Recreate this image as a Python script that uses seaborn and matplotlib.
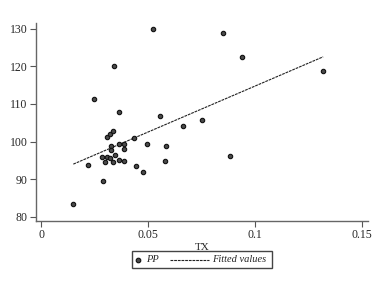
import numpy as np
import pandas as pd
import seaborn as sns
import matplotlib
matplotlib.use("Agg")
import matplotlib.pyplot as plt
from matplotlib.lines import Line2D
from matplotlib.patches import Rectangle

tx = [0.0151, 0.0221, 0.0246, 0.0287, 0.0291, 0.0301, 0.0307, 0.0310, 0.0322, 0.0322,
      0.0327, 0.0327, 0.0335, 0.0338, 0.0343, 0.0346, 0.0363, 0.0364, 0.0366, 0.0386,
      0.0388, 0.0388, 0.0435, 0.0444, 0.0478, 0.0495, 0.0523, 0.0555, 0.0578, 0.0586,
      0.0665, 0.0751, 0.0849, 0.0883, 0.0938, 0.1319]
pp = [83.4, 93.8, 111.3, 96.0, 89.5, 94.6, 101.2, 96.0, 95.6, 102.1,
      98.8, 97.8, 102.8, 94.6, 120.0, 96.3, 99.4, 95.1, 107.9, 99.4,
      98.0, 94.9, 100.9, 93.5, 92.0, 99.4, 129.8, 106.8, 94.9, 98.8,
      104.0, 105.6, 128.7, 96.2, 122.4, 118.8]
# fitted line endpoints
fit_x = [0.0151, 0.1319]
fit_y = [94.0, 122.5]

xticks = [0, 0.05, 0.1, 0.15]
xticklabels = ["0", "0.05", "0.1", "0.15"]
yticks = [80, 90, 100, 110, 120, 130]
legend_labels = ["PP", "Fitted values"]

sns.set_theme(style="white")
plt.rcParams["font.family"] = ["Liberation Serif", "DejaVu Serif"]

df = pd.DataFrame({"TX": tx, "PP": pp})
fit = pd.DataFrame({"TX": fit_x, "fit": fit_y})

W, H = 384, 285
fig = plt.figure(figsize=(3.84, 2.85), dpi=100)
ax = fig.add_axes([0.094, 0.2246, 0.864, 0.695])

mk_face, mk_edge = "#4a4a4a", "#111111"
line_col = "#222222"
line_style = (0, (2.5, 0.8))

sns.scatterplot(data=df, x="TX", y="PP", ax=ax, s=10, color=mk_face,
                edgecolor=mk_edge, linewidth=0.8, legend=False, zorder=3)
sns.lineplot(data=fit, x="TX", y="fit", ax=ax, color=line_col, lw=0.8,
             linestyle=line_style, legend=False)

ax.set_xlim(-0.0023, 0.1528)
ax.set_ylim(78.9, 131.5)
ax.set_xticks(xticks)
ax.set_xticklabels(xticklabels)
ax.set_yticks(yticks)
ax.tick_params(axis="both", direction="out", length=4, width=0.8, color="#555555",
               labelsize=8.5, pad=2, left=True, bottom=True)
for s in ["top", "right"]:
    ax.spines[s].set_visible(False)
for s in ["left", "bottom"]:
    ax.spines[s].set_color("#666666")
    ax.spines[s].set_linewidth(1.0)
ax.set_xlabel("TX", fontsize=8, labelpad=1)
ax.set_ylabel("")

# legend drawn in figure pixel coordinates
def fx(px):
    return px / W

def fy(py):
    return 1 - py / H

ly = 259.5
fig.patches.append(Rectangle((fx(132), fy(268)), fx(272) - fx(132), fy(251) - fy(268),
                             transform=fig.transFigure, fill=False,
                             edgecolor="#444444", linewidth=1.0))
fig.lines.append(Line2D([fx(137.5)], [fy(ly)], marker="o", ls="", color=mk_face,
                        markeredgecolor=mk_edge, markersize=3.3, markeredgewidth=0.8,
                        transform=fig.transFigure))
fig.text(fx(146), fy(ly), legend_labels[0], ha="left", va="center", fontsize=7.5,
         style="italic")
fig.lines.append(Line2D([fx(170), fx(209)], [fy(ly), fy(ly)], color=line_col, lw=0.8,
                        linestyle=line_style, transform=fig.transFigure))
fig.text(fx(212), fy(ly), legend_labels[1], ha="left", va="center", fontsize=7.5,
         style="italic")

fig.savefig("out.png", dpi=100)
